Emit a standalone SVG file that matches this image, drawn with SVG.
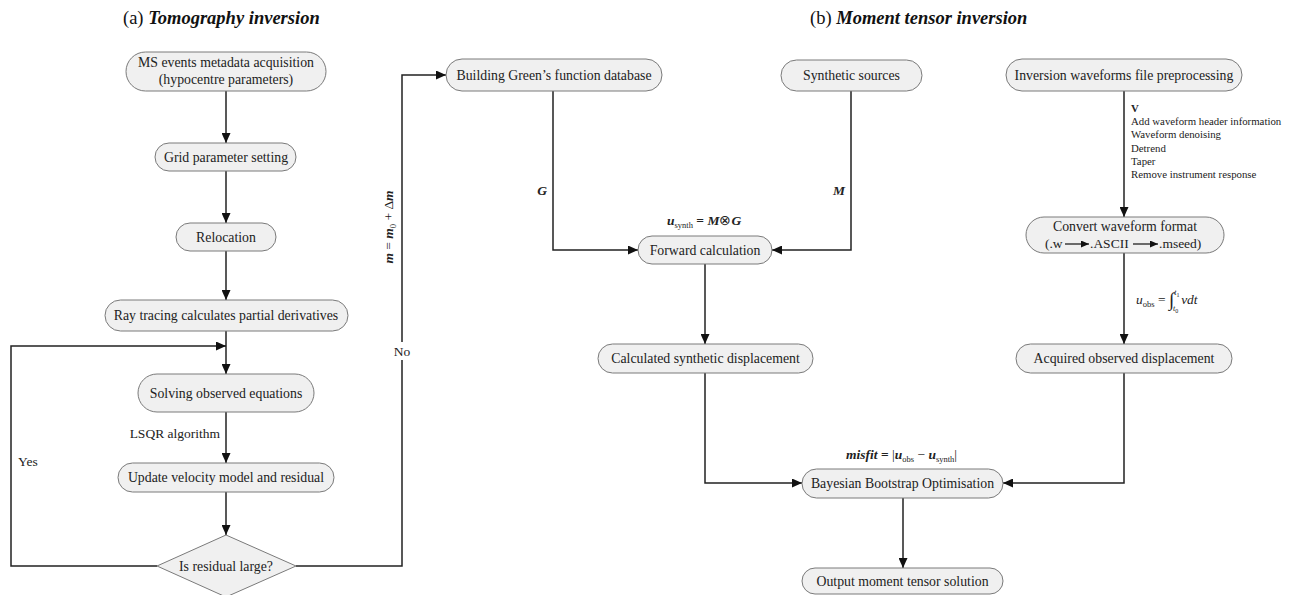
<svg xmlns="http://www.w3.org/2000/svg" width="1295" height="595" viewBox="0 0 1295 595">
<style>
  .n { fill: #f0f0f0; stroke: #7a7a7a; stroke-width: 1; }
  .t { font-family: "Liberation Serif", serif; font-size: 13.8px; fill: #222; text-anchor: middle; }
  .l { font-family: "Liberation Serif", serif; font-size: 13.5px; fill: #222; }
  .s { font-family: "Liberation Serif", serif; font-size: 10.8px; fill: #222; }
  .ttl { font-family: "Liberation Serif", serif; font-size: 18.5px; fill: #111; }
  .bi { font-weight: bold; font-style: italic; }
  .it { font-style: italic; }
  .c { fill: none; stroke: #222; stroke-width: 1.5; }
  .ca { fill: none; stroke: #222; stroke-width: 1.5; marker-end: url(#ah); }
</style>
<defs>
  <marker id="ah" markerUnits="userSpaceOnUse" markerWidth="10" markerHeight="9" refX="10" refY="4.5" orient="auto">
    <path d="M0,0 L10,4.5 L0,9 z" fill="#111"/>
  </marker>
  <marker id="sa" markerUnits="userSpaceOnUse" markerWidth="8" markerHeight="7" refX="8" refY="3.5" orient="auto">
    <path d="M0,0 L8,3.5 L0,7 z" fill="#111"/>
  </marker>
</defs>
<rect width="1295" height="595" fill="#fff"/>

<text class="ttl" x="123" y="24">(a) <tspan class="bi">Tomography inversion</tspan></text>
<text class="ttl" x="810" y="24">(b) <tspan class="bi">Moment tensor inversion</tspan></text>

<g id="connectors">
  <line class="ca" x1="226" y1="91" x2="226" y2="143"/>
  <line class="ca" x1="226" y1="171" x2="226" y2="223"/>
  <line class="ca" x1="226" y1="251" x2="226" y2="300"/>
  <line class="ca" x1="226" y1="331" x2="226" y2="374"/>
  <path class="ca" d="M157,566 H11 V346 H226"/>
  <line class="ca" x1="226" y1="412" x2="226" y2="463"/>
  <line class="ca" x1="226" y1="492" x2="226" y2="535"/>
  <path class="ca" d="M296,566 H402 V75 H446"/>
  <path class="ca" d="M553,91 V250 H638"/>
  <path class="ca" d="M851,91 V250 H772"/>
  <line class="ca" x1="705" y1="264" x2="705" y2="344"/>
  <line class="ca" x1="1124" y1="91" x2="1124" y2="217"/>
  <line class="ca" x1="1124" y1="253" x2="1124" y2="344"/>
  <path class="ca" d="M705,373 V483 H802"/>
  <path class="ca" d="M1124,373 V483 H1003"/>
  <line class="ca" x1="903" y1="498" x2="903" y2="568"/>
</g>

<g id="labels">
  <text class="l" x="220" y="438" text-anchor="end">LSQR algorithm</text>
  <text class="l" x="18" y="466">Yes</text>
  <rect x="392" y="342" width="20" height="18" fill="#fff"/>
  <text class="l" x="402" y="356" text-anchor="middle">No</text>
  <text class="l" transform="translate(393,227) rotate(-90)" text-anchor="middle"><tspan class="bi">m</tspan> = <tspan class="bi">m</tspan><tspan font-size="8.5" dy="3">0</tspan><tspan dy="-3"> + Δ</tspan><tspan class="bi">m</tspan></text>
  <text class="l bi" x="542" y="195" text-anchor="middle">G</text>
  <text class="l bi" x="839" y="195" text-anchor="middle">M</text>
  <text class="l" x="667" y="225"><tspan class="bi">u</tspan><tspan font-size="8.5" dy="3">synth</tspan><tspan dy="-3" font-weight="bold"> = </tspan><tspan class="bi">M</tspan>⊗<tspan class="bi">G</tspan></text>
  <text class="l" x="846" y="459"><tspan class="bi">misfit</tspan><tspan font-weight="bold"> = </tspan>|<tspan class="bi">u</tspan><tspan font-size="8.5" dy="3">obs</tspan><tspan dy="-3"> − </tspan><tspan class="bi">u</tspan><tspan font-size="8.5" dy="3">synth</tspan><tspan dy="-3">|</tspan></text>
  <text class="l" x="1136" y="304" font-size="15"><tspan class="it">u</tspan><tspan font-size="8.5" dy="3">obs</tspan><tspan dy="-3"> = </tspan><tspan font-size="19" dy="2">∫</tspan><tspan font-size="8" class="it" dy="-11">t</tspan><tspan font-size="6" dy="2">1</tspan><tspan font-size="8" class="it" dx="-6.5" dy="14">t</tspan><tspan font-size="6" dy="2">0</tspan><tspan class="it" dx="3" dy="-9">vdt</tspan></text>
  <text class="s" x="1131" y="112" font-weight="bold" font-size="9">V</text>
  <text class="s" x="1131" y="125">Add waveform header information</text>
  <text class="s" x="1131" y="138">Waveform denoising</text>
  <text class="s" x="1131" y="152">Detrend</text>
  <text class="s" x="1131" y="165">Taper</text>
  <text class="s" x="1131" y="178">Remove instrument response</text>
</g>

<g id="n-ms"><rect class="n" x="126" y="52" width="200" height="39" rx="19.5"/>
  <text class="t" x="226" y="67">MS events metadata acquisition</text><text class="t" x="226" y="84">(hypocentre parameters)</text></g>
<g id="n-grid"><rect class="n" x="155" y="143" width="141" height="28" rx="14"/><text class="t" x="226" y="161.5">Grid parameter setting</text></g>
<g id="n-reloc"><rect class="n" x="176" y="223" width="100" height="28" rx="14"/><text class="t" x="226" y="241.5">Relocation</text></g>
<g id="n-ray"><rect class="n" x="105" y="300" width="243" height="31" rx="15.5"/><text class="t" x="226" y="320">Ray tracing calculates partial derivatives</text></g>
<g id="n-solve"><rect class="n" x="138" y="374" width="176" height="38" rx="19"/><text class="t" x="226" y="397.5">Solving observed equations</text></g>
<g id="n-update"><rect class="n" x="118" y="463" width="216" height="29" rx="14.5"/><text class="t" x="226" y="482">Update velocity model and residual</text></g>
<g id="n-resid"><polygon class="n" points="226,535 296,566 226,597 157,566"/><text class="t" x="226" y="570.5">Is residual large?</text></g>
<g id="n-green"><rect class="n" x="446" y="59" width="216" height="32" rx="16"/><text class="t" x="554" y="79.5">Building Green’s function database</text></g>
<g id="n-synsrc"><rect class="n" x="781" y="60" width="141" height="31" rx="15.5"/><text class="t" x="851.5" y="80">Synthetic sources</text></g>
<g id="n-inv"><rect class="n" x="1006" y="59" width="236" height="32" rx="16"/><text class="t" x="1124" y="79.5">Inversion waveforms file preprocessing</text></g>
<g id="n-fwd"><rect class="n" x="638" y="236" width="134" height="28" rx="14"/><text class="t" x="705" y="254.5">Forward calculation</text></g>
<g id="n-conv"><rect class="n" x="1026" y="217" width="198" height="36" rx="18"/>
  <text class="t" x="1125" y="231" font-size="14.3">Convert waveform format</text>
  <text class="l" x="1045" y="248" font-size="14.3">(.w</text>
  <line x1="1065" y1="244" x2="1089" y2="244" stroke="#111" stroke-width="1.2" marker-end="url(#sa)"/>
  <text class="l" x="1090" y="248" font-size="14.3">.ASCII</text>
  <line x1="1133" y1="244" x2="1158" y2="244" stroke="#111" stroke-width="1.2" marker-end="url(#sa)"/>
  <text class="l" x="1159" y="248" font-size="14.3">.mseed)</text></g>
<g id="n-calc"><rect class="n" x="598" y="344" width="215" height="29" rx="14.5"/><text class="t" x="705.5" y="363">Calculated synthetic displacement</text></g>
<g id="n-acq"><rect class="n" x="1016" y="344" width="216" height="29" rx="14.5"/><text class="t" x="1124" y="363">Acquired observed displacement</text></g>
<g id="n-bayes"><rect class="n" x="802" y="469" width="201" height="29" rx="14.5"/><text class="t" x="902.5" y="488">Bayesian Bootstrap Optimisation</text></g>
<g id="n-out"><rect class="n" x="802" y="568" width="201" height="26" rx="13"/><text class="t" x="902.5" y="586">Output moment tensor solution</text></g>
</svg>
